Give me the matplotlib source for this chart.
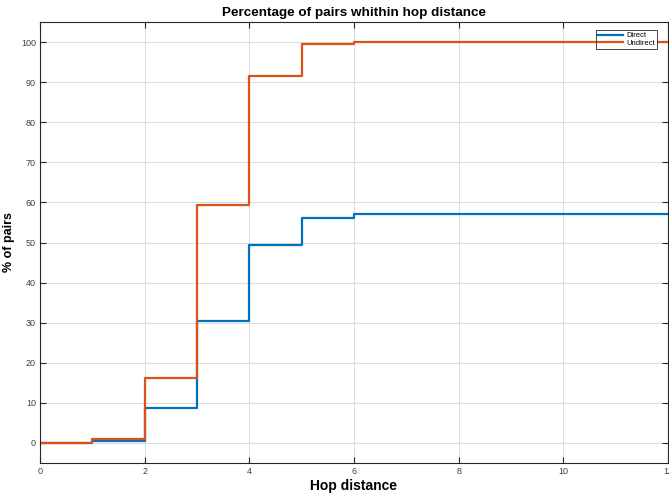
import matplotlib
matplotlib.use("Agg")
import matplotlib.pyplot as plt
import numpy as np

hops = [0, 1, 2, 3, 4, 5, 6, 7, 8, 9, 10, 11, 12]
direct = [0, 0.5, 8.7, 30.5, 49.5, 56.0, 57.0, 57.2, 57.2, 57.2, 57.2, 57.2, 57.2]
undirect = [0, 1.0, 16.3, 59.4, 91.6, 99.4, 100.0, 100.0, 100.0, 100.0, 100.0, 100.0, 100.0]

plt.rcParams['font.family'] = ['Liberation Sans', 'DejaVu Sans']

fig = plt.figure(figsize=(6.69, 4.99), dpi=100)
ax = fig.add_axes([40/669, 1-463/499, 628/669, 441/499])

ax.step(hops, direct, where='post', color='#0072BD', lw=1.6, label='Direct')
ax.step(hops, undirect, where='post', color='#D95319', lw=1.6, label='Undirect')

ax.set_xlim(0, 12)
ax.set_ylim(-5, 105)
ax.set_xticks(np.arange(0, 13, 2))
ax.set_yticks(np.arange(0, 101, 10))
ax.grid(True, color='#dddddd', lw=0.8)
ax.set_axisbelow(True)
ax.tick_params(direction='in', top=True, right=True, labelsize=6.5,
               colors='#262626', labelcolor='#404040', length=4, width=0.8, pad=3)
for s in ax.spines.values():
    s.set_color('#262626')
    s.set_linewidth(0.8)

ax.set_title('Percentage of pairs whithin hop distance', fontsize=9.7, fontweight='bold', pad=4)
ax.set_xlabel('Hop distance', fontsize=10, fontweight='bold', labelpad=2)
ax.set_ylabel('% of pairs', fontsize=9, fontweight='bold', labelpad=4)

leg = ax.legend(loc='upper right', bbox_to_anchor=(0.9825, 0.982), fontsize=5.5,
                fancybox=False, edgecolor='#262626', framealpha=1, handlelength=3.3,
                borderaxespad=0, borderpad=0.25, labelspacing=0.05, handletextpad=0.4)
leg.get_frame().set_linewidth(0.6)

fig.savefig('out.png', dpi=100)
